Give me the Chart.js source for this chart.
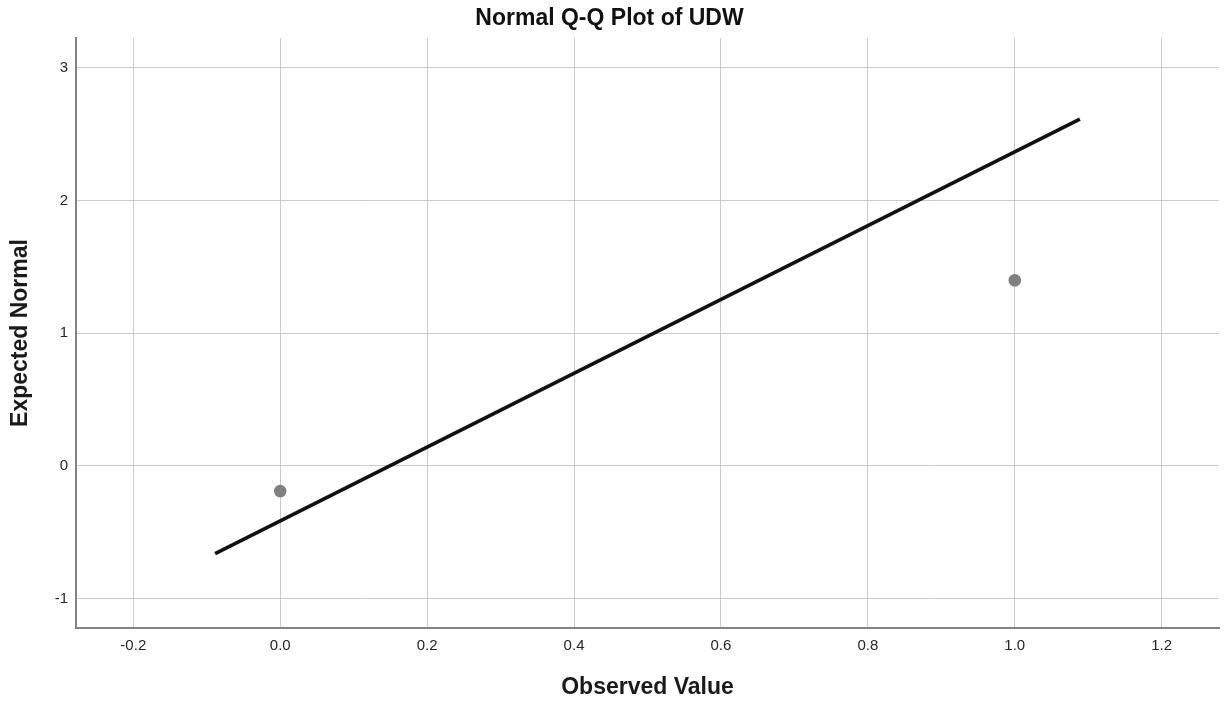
<!DOCTYPE html>
<html>
<head>
<meta charset="utf-8">
<title>Normal Q-Q Plot of UDW</title>
<script src="https://cdn.jsdelivr.net/npm/chart.js@4/dist/chart.umd.min.js"></script>
<style>
  html, body { margin: 0; padding: 0; background: #ffffff; }
  #wrap { width: 1228px; height: 707px; position: relative; }
</style>
</head>
<body>
<div id="wrap"><canvas id="qq"></canvas></div>
<script>
// Observed values of UDW and their expected normal quantiles
const observedValues = [0, 1];
const expectedNormal = [-0.19, 1.40];

// Reference line end points
const refLineX = [-0.0886, 1.0886];
const refLineY = [-0.662, 2.614];

// Axis ticks and ranges
const xTicks = [-0.2, 0.0, 0.2, 0.4, 0.6, 0.8, 1.0, 1.2];
const yTicks = [-1, 0, 1, 2, 3];
const xRange = [-0.278, 1.278];
const yRange = [-1.222, 3.226];

const FONT = '"Liberation Sans", Arial, Helvetica, sans-serif';
const GRID = '#cbcbcb';
const AXIS = '#828282';

const pointData = observedValues.map((x, i) => ({ x: x, y: expectedNormal[i] }));
const lineData = refLineX.map((x, i) => ({ x: x, y: refLineY[i] }));

new Chart(document.getElementById('qq'), {
  type: 'scatter',
  data: {
    datasets: [
      {
        label: 'Observed',
        data: pointData,
        pointRadius: 6.3,
        pointHoverRadius: 6.3,
        pointBackgroundColor: '#808080',
        pointBorderColor: '#808080',
        pointBorderWidth: 0,
        showLine: false,
        order: 2
      },
      {
        label: 'Reference',
        data: lineData,
        showLine: true,
        borderColor: '#111111',
        borderWidth: 3.6,
        pointRadius: 0,
        pointHoverRadius: 0,
        fill: false,
        order: 1
      }
    ]
  },
  options: {
    responsive: true,
    maintainAspectRatio: false,
    animation: false,
    events: [],
    layout: { padding: { left: 0, right: 9, top: 0, bottom: 0 } },
    plugins: {
      legend: { display: false },
      tooltip: { enabled: false },
      title: {
        display: true,
        text: 'Normal Q-Q Plot of UDW',
        color: '#111111',
        font: { family: FONT, size: 23, weight: 'bold', lineHeight: 1.2 },
        padding: { top: 5.2, bottom: 5.2 }
      }
    },
    scales: {
      x: {
        type: 'linear',
        position: 'bottom',
        min: xRange[0],
        max: xRange[1],
        afterBuildTicks: (scale) => { scale.ticks = xTicks.map(v => ({ value: v })); },
        afterFit: (scale) => { scale.height = 79; },
        grid: { color: GRID, lineWidth: 1, drawTicks: false },
        border: { display: true, color: AXIS, width: 2 },
        ticks: {
          color: '#262626',
          padding: 9,
          maxRotation: 0,
          autoSkip: false,
          font: { family: FONT, size: 15 },
          callback: (v) => Number(v).toFixed(1)
        },
        title: {
          display: true,
          text: 'Observed Value',
          color: '#1a1a1a',
          font: { family: FONT, size: 23, weight: 'bold', lineHeight: 1.2 },
          padding: { top: 0, bottom: 5.7 }
        }
      },
      y: {
        type: 'linear',
        position: 'left',
        min: yRange[0],
        max: yRange[1],
        afterBuildTicks: (scale) => { scale.ticks = yTicks.map(v => ({ value: v })); },
        afterFit: (scale) => { scale.width = 76; },
        grid: { color: GRID, lineWidth: 1, drawTicks: false },
        border: { display: true, color: AXIS, width: 2 },
        ticks: {
          color: '#262626',
          padding: 8,
          autoSkip: false,
          font: { family: FONT, size: 15 },
          callback: (v) => String(v)
        },
        title: {
          display: true,
          text: 'Expected Normal',
          color: '#1a1a1a',
          font: { family: FONT, size: 23, weight: 'bold', lineHeight: 1.2 },
          padding: { top: 7, bottom: 0 }
        }
      }
    }
  }
});
</script>
</body>
</html>
